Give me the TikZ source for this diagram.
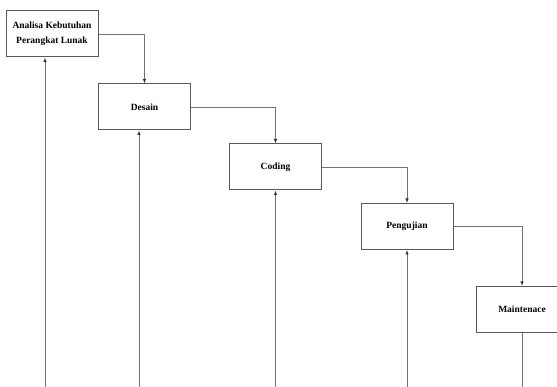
\documentclass[tikz,border=0pt]{standalone}
\usepackage{fontspec}
\setmainfont{Liberation Serif}
\usetikzlibrary{arrows.meta}
\begin{document}
\begin{tikzpicture}[x=1pt,y=-1pt,
  stepbox/.style={draw=black!65,line width=1pt,fill=white,minimum width=92pt,minimum height=46pt,inner sep=1pt,align=center,font=\fontsize{9.5}{15}\selectfont\bfseries},
  conn/.style={draw=black!55,line width=0.8pt,-{Latex[length=4.5pt,width=3.5pt,color=black!80]}},
  plain/.style={draw=black!55,line width=0.8pt}]
\useasboundingbox (0,0) rectangle (557,387);
\node[stepbox] (a) at (52,34) {Analisa Kebutuhan\\Perangkat Lunak};
\node[stepbox] (d) at (144.5,107) {Desain};
\node[stepbox] (c) at (275.5,167) {Coding};
\node[stepbox] (p) at (407,226.5) {Pengujian};
\node[stepbox] (m) at (522,309.5) {Maintenace};
\draw[conn] (a.east) -| (d.north);
\draw[conn] (d.east) -| (c.north);
\draw[conn] (c.east) -| (p.north);
\draw[conn] (p.east) -| (m.north);
\coordinate (ba) at (45,388);
\coordinate (bd) at (139,388);
\coordinate (bc) at (275.5,388);
\coordinate (bp) at (407,388);
\coordinate (bm) at (522,388);
\draw[conn] (ba) -- (ba |- a.south);
\draw[conn] (bd) -- (bd |- d.south);
\draw[conn] (bc) -- (c.south);
\draw[conn] (bp) -- (p.south);
\draw[plain] (m.south) -- (bm);
\end{tikzpicture}
\end{document}
